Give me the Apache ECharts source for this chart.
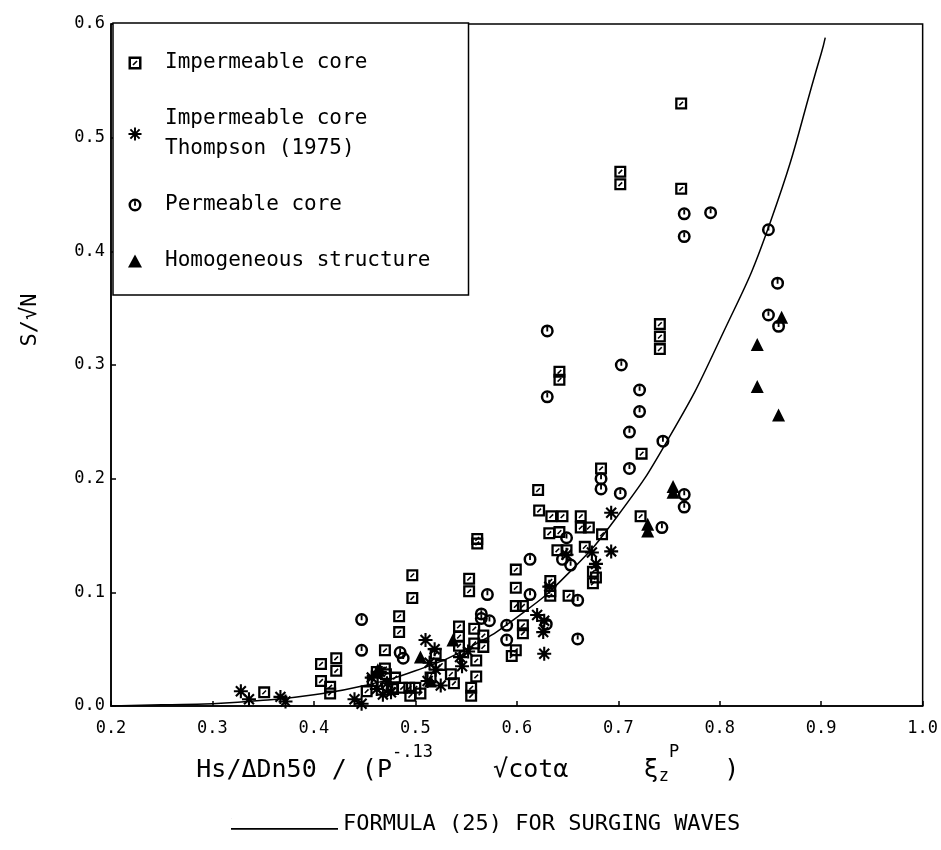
<!DOCTYPE html>
<html>
<head>
<meta charset="utf-8">
<script src="https://cdn.jsdelivr.net/npm/echarts@6.0.0/dist/echarts.min.js"></script>
<style>
html,body{margin:0;padding:0;background:#fff;}
#chart{width:941px;height:850px;}
</style>
</head>
<body>
<div id="chart"></div>
<script>
// ---------------- data ----------------
const xTickValues = [0.2, 0.3, 0.4, 0.5, 0.6, 0.7, 0.8, 0.9, 1.0];
const yTickValues = [0.0, 0.1, 0.2, 0.3, 0.4, 0.5, 0.6];

const seriesNames = [
  'Impermeable core',
  'Impermeable core\nThompson (1975)',
  'Permeable core',
  'Homogeneous structure'
];
const curveName = 'FORMULA (25) FOR SURGING WAVES';

// Impermeable core (boxed squares)
const impermeableCore = [
  [0.762,0.530],[0.702,0.470],[0.702,0.459],[0.762,0.455],
  [0.741,0.336],[0.741,0.325],[0.741,0.314],
  [0.642,0.294],[0.642,0.287],
  [0.723,0.222],[0.683,0.209],[0.621,0.190],
  [0.622,0.172],[0.634,0.167],[0.645,0.167],[0.663,0.167],[0.663,0.157],[0.671,0.157],
  [0.722,0.167],[0.684,0.151],[0.632,0.152],[0.642,0.153],
  [0.640,0.137],[0.649,0.137],[0.667,0.140],
  [0.561,0.147],[0.561,0.143],
  [0.497,0.115],[0.497,0.095],
  [0.484,0.079],[0.484,0.065],[0.470,0.049],
  [0.553,0.112],[0.553,0.101],
  [0.599,0.120],[0.599,0.104],[0.599,0.088],[0.606,0.088],
  [0.606,0.071],[0.606,0.064],[0.595,0.044],[0.599,0.049],
  [0.543,0.070],[0.543,0.061],[0.543,0.053],
  [0.558,0.068],[0.567,0.062],[0.567,0.052],
  [0.558,0.055],[0.560,0.040],[0.560,0.026],[0.555,0.016],[0.555,0.009],
  [0.633,0.110],[0.633,0.101],[0.633,0.097],
  [0.675,0.118],[0.678,0.113],[0.675,0.108],[0.651,0.097],
  [0.422,0.042],[0.422,0.031],[0.407,0.037],[0.407,0.022],[0.416,0.017],[0.416,0.011],
  [0.351,0.012],
  [0.470,0.033],[0.471,0.028],
  [0.487,0.016],[0.494,0.016],[0.500,0.016],[0.495,0.009],[0.505,0.011],
  [0.452,0.013],[0.458,0.022],[0.462,0.030],
  [0.520,0.046],[0.525,0.036],[0.535,0.028],[0.515,0.025],[0.538,0.020],
  [0.480,0.025],[0.478,0.015]
];

// Impermeable core, Thompson (1975) (asterisks)
const thompson1975 = [
  [0.328,0.013],[0.336,0.006],[0.367,0.008],[0.372,0.004],[0.440,0.006],[0.447,0.002],
  [0.457,0.025],[0.462,0.015],[0.468,0.010],[0.465,0.030],[0.472,0.020],[0.476,0.012],
  [0.510,0.058],[0.519,0.050],[0.514,0.038],[0.520,0.032],[0.512,0.022],[0.525,0.018],
  [0.546,0.035],[0.544,0.043],[0.552,0.048],
  [0.620,0.080],[0.627,0.075],[0.626,0.065],[0.627,0.046],[0.632,0.105],
  [0.649,0.133],[0.674,0.135],[0.693,0.170],[0.693,0.136],[0.678,0.125]
];

// Permeable core (circles)
const permeableCore = [
  [0.765,0.433],[0.791,0.434],[0.765,0.413],[0.848,0.419],[0.857,0.372],[0.848,0.344],[0.858,0.334],
  [0.703,0.300],[0.721,0.278],[0.721,0.259],[0.711,0.241],[0.744,0.233],[0.711,0.209],
  [0.683,0.200],[0.683,0.191],[0.702,0.187],[0.765,0.186],[0.765,0.175],[0.743,0.157],
  [0.630,0.330],[0.630,0.272],
  [0.649,0.148],[0.645,0.129],[0.653,0.124],[0.613,0.129],[0.660,0.093],[0.660,0.059],
  [0.571,0.098],[0.613,0.098],[0.590,0.071],[0.590,0.058],[0.565,0.081],[0.565,0.077],
  [0.573,0.075],[0.629,0.072],[0.447,0.076],[0.447,0.049],[0.485,0.047],[0.488,0.042],
  [0.472,0.018]
];

// Homogeneous structure (filled triangles)
const homogeneous = [
  [0.861,0.342],[0.837,0.318],[0.837,0.281],[0.858,0.256],
  [0.754,0.193],[0.754,0.188],[0.729,0.160],[0.729,0.154],
  [0.463,0.032],[0.505,0.043],[0.537,0.058],[0.515,0.022]
];

// Formula (25) curve
const curveX = [0.20,0.25,0.30,0.35,0.40,0.45,0.50,0.55,0.60,0.65,0.70,0.75,0.80,0.85,0.90,0.904];
const curveY = [0.000,0.001,0.002,0.005,0.010,0.018,0.031,0.050,0.078,0.116,0.168,0.236,0.322,0.426,0.574,0.588];

// ---------------- styling ----------------
const MONO = '"DejaVu Sans Mono", "Liberation Mono", monospace';
const SYM_SQUARE = 'path://M0,0H12V12H0Z M2.3,2.3V9.7H9.7V2.3Z M3.6,7.3L7.3,3.6L8.4,4.7L4.7,8.4Z';
const SYM_CIRCLE = 'path://M6,0A6,6 0 1,1 5.99,0Z M6,2.3A3.7,3.7 0 1,0 6.01,2.3Z M5.15,2.5H6.85V6.6H5.15Z';
const SYM_STAR = 'path://M5.1,0H6.9V12H5.1Z M0,5.1H12V6.9H0Z M1.1,2.4L2.4,1.1L10.9,9.6L9.6,10.9Z M9.6,1.1L10.9,2.4L2.4,10.9L1.1,9.6Z';
const LINE_ICON = 'path://M0,0H0.2V0.05H0Z M0,9H100V10.6H0Z';

const chart = echarts.init(document.getElementById('chart'), null, {renderer: 'canvas'});

const curveData = curveX.map((x, i) => [x, curveY[i]]);

const option = {
  animation: false,
  backgroundColor: '#fff',
  textStyle: {fontFamily: MONO, color: '#000'},
  grid: {
    left: 111, right: 12, top: 24, bottom: 144,
    show: true, borderColor: '#000', borderWidth: 1.5, backgroundColor: 'transparent'
  },
  legend: [
    {
      orient: 'vertical',
      left: 113, top: 23,
      itemWidth: 14, itemHeight: 13, itemGap: 26,
      padding: [25, 38, 19, 15],
      borderColor: '#000', borderWidth: 1.5,
      backgroundColor: '#fff',
      selectedMode: false,
      textStyle: {fontFamily: MONO, fontSize: 21, lineHeight: 30, color: '#000', padding: [0, 0, 0, 18]},
      data: seriesNames
    },
    {
      left: 226, top: 808,
      itemWidth: 107, itemHeight: 14,
      selectedMode: false,
      textStyle: {fontFamily: MONO, fontSize: 22, color: '#000'},
      data: [{name: curveName, icon: LINE_ICON}]
    }
  ],
  xAxis: {
    type: 'value',
    min: 0.2, max: 1.0, interval: 0.1,
    splitLine: {show: false},
    axisLine: {show: true, lineStyle: {color: '#000', width: 1.5}},
    axisTick: {show: true, inside: true, length: 5, lineStyle: {color: '#000', width: 1.5}},
    axisLabel: {
      color: '#000', fontFamily: MONO, fontSize: 17, margin: 14,
      formatter: v => v.toFixed(1)
    },
    name: '{m|Hs/ΔDn50 / (P}{sup|-.13}{m|    √cotα     ξ}{sub|z}{sup|P}{m|   )}',
    nameLocation: 'middle',
    nameGap: 38,
    nameTextStyle: {
      padding: [0, 98, 0, 0],
      rich: {
        m: {fontFamily: MONO, fontSize: 25, color: '#000'},
        sup: {fontFamily: MONO, fontSize: 17, color: '#000', padding: [0, 0, 36, 0]},
        sub: {fontFamily: MONO, fontSize: 17, color: '#000', padding: [12, 0, 0, 0]}
      }
    }
  },
  yAxis: {
    type: 'value',
    min: 0, max: 0.6, interval: 0.1,
    splitLine: {show: false},
    axisLine: {show: true, lineStyle: {color: '#000', width: 1.5}},
    axisTick: {show: true, inside: true, length: 5, lineStyle: {color: '#000', width: 1.5}},
    axisLabel: {
      color: '#000', fontFamily: MONO, fontSize: 17, margin: 6,
      formatter: v => v.toFixed(1)
    },
    name: 'S/√N',
    nameLocation: 'middle',
    nameRotate: 90,
    nameGap: 70,
    nameTextStyle: {fontFamily: MONO, fontSize: 22, color: '#000', padding: [0, 0, 0, 90]}
  },
  series: [
    {
      name: seriesNames[0], type: 'scatter', data: impermeableCore,
      symbol: SYM_SQUARE, symbolSize: 12, itemStyle: {color: '#000', opacity: 1}, z: 3
    },
    {
      name: seriesNames[1], type: 'scatter', data: thompson1975,
      symbol: SYM_STAR, symbolSize: 14, itemStyle: {color: '#000', opacity: 1}, z: 4
    },
    {
      name: seriesNames[2], type: 'scatter', data: permeableCore,
      symbol: SYM_CIRCLE, symbolSize: 13, itemStyle: {color: '#000', opacity: 1}, z: 3
    },
    {
      name: seriesNames[3], type: 'scatter', data: homogeneous,
      symbol: 'triangle', symbolSize: 13, itemStyle: {color: '#000', opacity: 1}, z: 4
    },
    {
      name: curveName, type: 'line', data: curveData,
      smooth: true, symbol: 'none', showSymbol: false,
      lineStyle: {color: '#000', width: 1.5}, itemStyle: {color: '#000'}, z: 2
    }
  ]
};
chart.setOption(option);
</script>
</body>
</html>
